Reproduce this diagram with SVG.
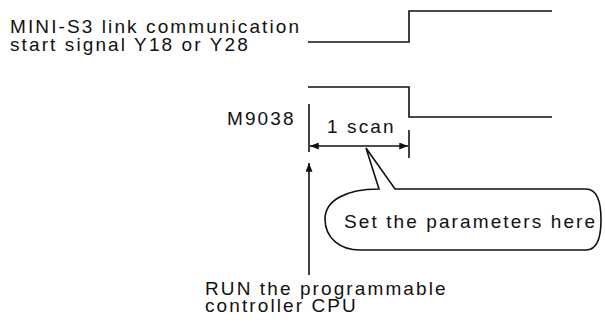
<svg xmlns="http://www.w3.org/2000/svg" width="605" height="322" viewBox="0 0 605 322">
<style>
  .t { font-family: "Liberation Sans", Arial, sans-serif; font-size: 19px; letter-spacing: 2.1px; fill: #111; }
  .ln { fill: none; stroke: #111; stroke-width: 1.6; }
</style>
<defs>
  <marker id="ah" viewBox="0 0 10 8" refX="10" refY="4" markerWidth="10" markerHeight="7" markerUnits="userSpaceOnUse" orient="auto-start-reverse">
    <path d="M0 0 L10 4 L0 8 Z" fill="#111"/>
  </marker>
</defs>
<rect width="605" height="322" fill="#fff"/>
<g id="label-start-signal">
  <text class="t" x="10" y="33">MINI-S3 link communication</text>
  <text class="t" x="10" y="50.5">start signal Y18 or Y28</text>
</g>
<g id="label-m9038">
  <text class="t" x="227" y="125">M9038</text>
</g>
<g id="label-scan">
  <text class="t" x="327" y="133">1 scan</text>
</g>
<g id="label-run">
  <text class="t" x="205" y="294.5">RUN the programmable</text>
  <text class="t" x="205" y="312">controller CPU</text>
</g>
<g id="callout">
  <path class="ln" d="M379 189 C345 189 325 201 325 219 C325 238 340 250 360 250 H586 C597 250 601 237 601 220 C601 202 597 189 586 189 H395 L366 148 Z"/>
  <text class="t" x="344" y="228">Set the parameters here</text>
</g>
<g id="connectors">
  <path id="signal-start" class="ln" d="M308 42 H409 V11 H552"/>
  <path id="signal-m9038" class="ln" d="M308 87 H409 V117 H552"/>
  <path class="ln" d="M309 104 V152"/>
  <path class="ln" d="M409 130 V158"/>
  <path class="ln" d="M310 146 H408" marker-start="url(#ah)" marker-end="url(#ah)"/>
  <path class="ln" d="M309 275 V163" marker-end="url(#ah)"/>
</g>
</svg>
